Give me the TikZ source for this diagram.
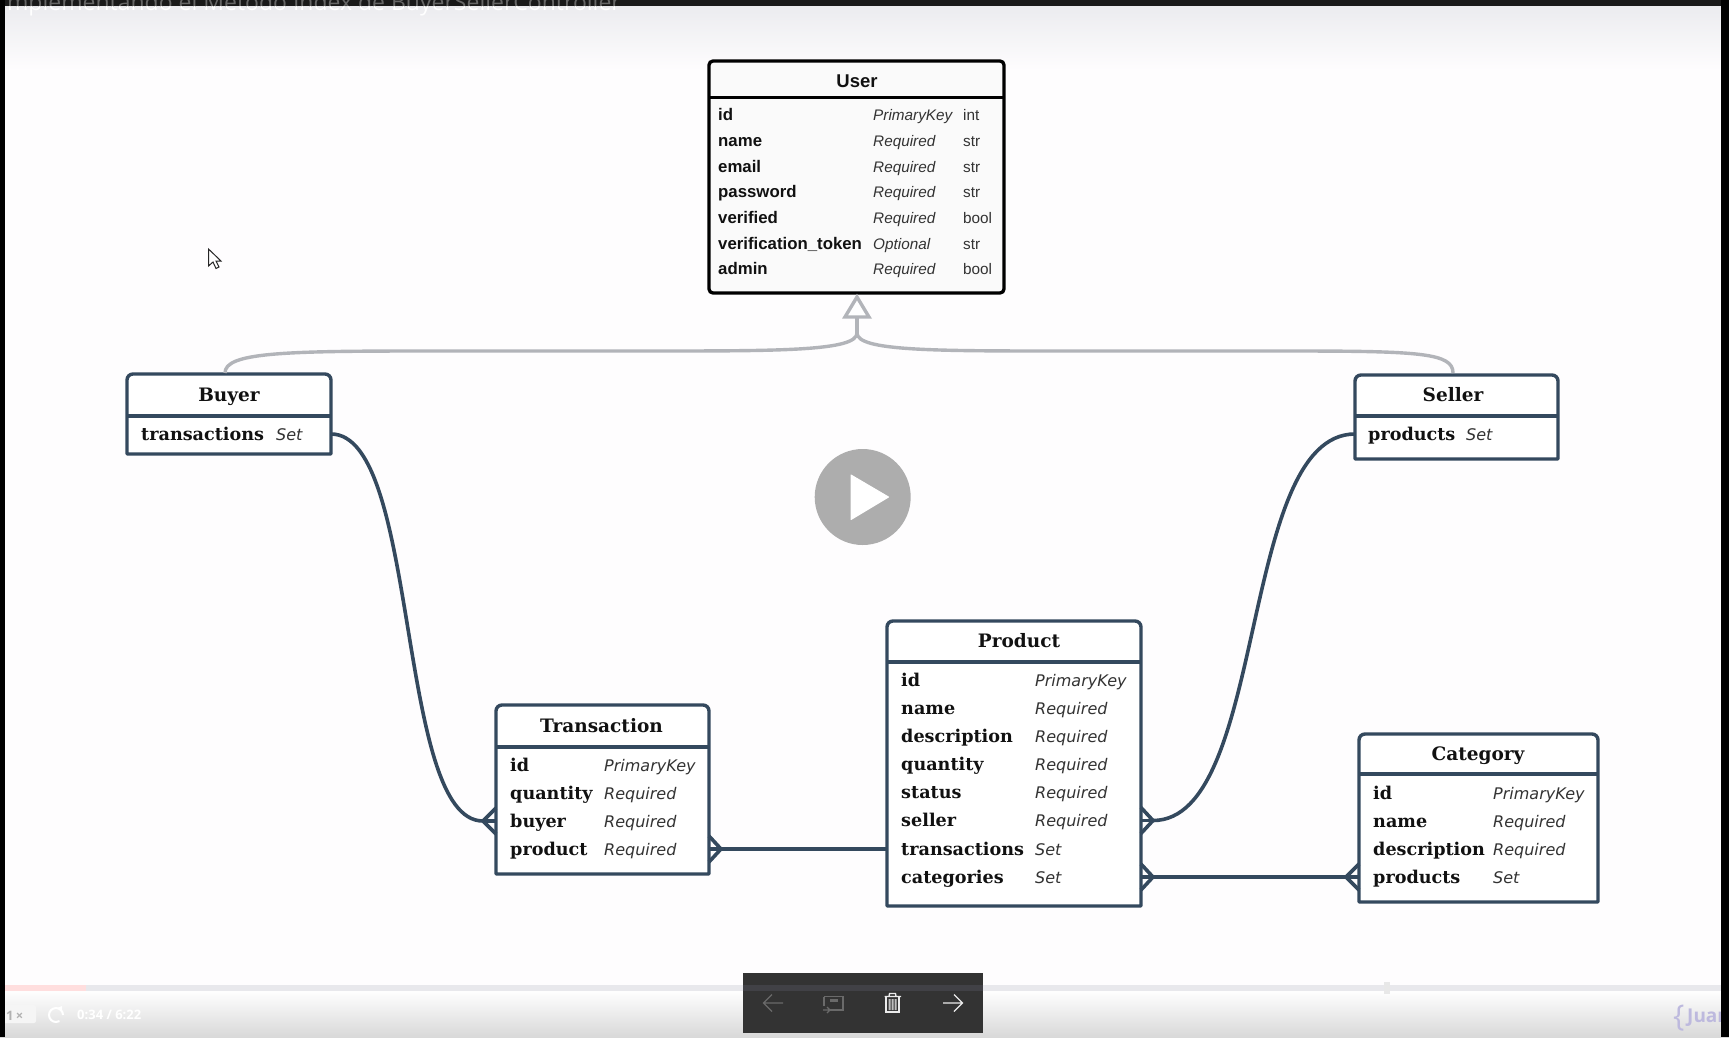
\documentclass[tikz,border=0pt]{standalone}
\usepackage{fontspec}
\setmainfont{DejaVu Sans}
\newfontfamily\erfont{DejaVu Serif}
\newfontfamily\ersans{DejaVu Sans}
\newfontfamily\userfont{Liberation Sans}
\newfontfamily\uifont{Open Sans}
\definecolor{slate}{HTML}{34495E}
\definecolor{inherit}{HTML}{B2B4B9}
\definecolor{ink}{HTML}{111111}
\definecolor{ital}{HTML}{333333}
\definecolor{barshade}{HTML}{E8E8EC}
\definecolor{screenbg}{HTML}{FEFDFE}
\definecolor{toolbar}{HTML}{333333}
\definecolor{toolband}{HTML}{414146}
\definecolor{lavender}{HTML}{BDB9DE}
\definecolor{dimicon}{HTML}{6A6A6A}
\tikzset{
  x=1pt,y=-1pt,
  anchorbox/.style={inner sep=0pt,outer sep=0pt},
  ertitle/.style={inner sep=0pt,anchor=center,text=ink,font=\erfont\bfseries\fontsize{18.5}{20}\selectfont},
  erfield/.style={inner sep=0pt,anchor=base west,text=ink,font=\erfont\bfseries\fontsize{17.6}{20}\selectfont},
  erkind/.style={inner sep=0pt,anchor=base west,text=ital,font=\ersans\itshape\fontsize{16}{20}\selectfont},
  utitle/.style={inner sep=0pt,anchor=center,text=ink,font=\userfont\bfseries\fontsize{18.5}{20}\selectfont},
  ufield/.style={inner sep=0pt,anchor=base west,text=ink,font=\userfont\bfseries\fontsize{16.8}{20}\selectfont},
  ukind/.style={inner sep=0pt,anchor=base west,text=ital,font=\userfont\itshape\fontsize{15.3}{20}\selectfont},
  utype/.style={inner sep=0pt,anchor=base west,text=ital,font=\userfont\fontsize{15.3}{20}\selectfont},
  tablebody/.style={draw=slate,line width=3.4pt,fill=white,line join=round},
  rel/.style={draw=slate,line width=3.6pt},
  inh/.style={draw=inherit,line width=3.4pt},
  uitext/.style={inner sep=0pt,anchor=base west},
}
% name, x1, y1, x2, y2, header y
\newcommand{\ertable}[6]{%
  \node[anchorbox,minimum width=#4pt-#2pt,minimum height=#5pt-#3pt,anchor=north west] (#1) at (#2,#3) {};
  \draw[tablebody] (#1.south west) [rounded corners=6pt] -- (#1.north west) -- (#1.north east) [sharp corners] -- (#1.south east) -- cycle;
  \draw[slate,line width=3.4pt] (#1.west |- 0,#6) -- (#1.east |- 0,#6);
}
% row: name, box, field x, kind x, centre y, field, kind
\newcommand{\errow}[7]{%
  \node[erfield] (#1) at (#3,#5+6.2) {#6};
  \node[erkind] (#1k) at (#4,#5+6.2) {#7};
  \coordinate (#1w) at (#2.west |- 0,#5);
  \coordinate (#1e) at (#2.east |- 0,#5);
}
\newcommand{\urow}[6]{%
  \node[ufield] (#1) at (718,#2+5.5) {#3};
  \node[ukind] (#1k) at (873,#2+5.5) {#4};
  \node[utype] (#1t) at (#5,#2+5.5) {#6};
}
\newcommand{\crowleft}[1]{%
  \draw[rel,line join=miter] ([xshift=13pt,yshift=13pt]#1) -- (#1) -- ([xshift=13pt,yshift=-13pt]#1);
  \draw[rel] (#1) -- ([xshift=13pt]#1);
}
\newcommand{\crowright}[1]{%
  \draw[rel,line join=miter] ([xshift=-12pt,yshift=13pt]#1) -- (#1) -- ([xshift=-12pt,yshift=-13pt]#1);
  \draw[rel] (#1) -- ([xshift=-12pt]#1);
}
\begin{document}
\begin{tikzpicture}
\useasboundingbox (0,0) rectangle (1729,1037);
% screen
\fill[screenbg] (0,0) rectangle (1729,1037);
\shade[top color=barshade!85!white,bottom color=screenbg] (0,6) rectangle (1729,70);
\shade[top color=white!97!barshade,bottom color=black!15] (0,991) rectangle (1729,1037);
\fill[barshade] (0,985) rectangle (1729,991);
\fill[red!13] (0,985) rectangle (86,991);
\fill[black!9] (1384,982) rectangle (1390,994);
\fill[black!90] (0,0) rectangle (1729,6);
% clipped video title
\begin{scope}
  \clip (5,0) rectangle (1729,6);
  \node[inner sep=0pt,anchor=base east,text=black!60,font=\uifont\fontsize{23}{26}\selectfont] (titlea) at (621,10) {Implementando el Metodo Index de BuyerSellerController};
\end{scope}
\begin{scope}
  \clip (5,6) rectangle (1729,40);
  \node[inner sep=0pt,anchor=base east,text=white,font=\uifont\fontsize{23}{26}\selectfont] (titleb) at (621,10) {Implementando el Metodo Index de BuyerSellerController};
\end{scope}
% player controls
\fill[white!96!black,rounded corners=2pt] (0,1005) rectangle (36,1023);
\node[uitext,text=black!30,font=\uifont\bfseries\fontsize{13}{15}\selectfont] (speed) at (6,1020) {1\,×};
\draw[white,line width=2pt] (63,1015) arc[start angle=0,end angle=-300,radius=7];
\fill[white] (62,1006) -- (62,1012) -- (57,1008) -- cycle;
\node[uitext,text=white,font=\uifont\bfseries\fontsize{13}{15}\selectfont] (clock) at (77,1019) {0:34 / 6:22};
\begin{scope}
  \clip (1660,995) rectangle (1721,1037);
  \node[uitext,text=lavender,font=\uifont\fontsize{30}{32}\selectfont] (brace) at (1673,1026) {\{};
  \node[uitext,text=lavender,font=\uifont\bfseries\fontsize{19}{22}\selectfont] (brand) at (1687,1022) {Juan};
\end{scope}
% toolbar
\fill[toolbar] (743,973) rectangle (983,1033);
\fill[toolband] (743,985) rectangle (983,991);
\draw[dimicon,line width=1.3pt] (783,1003) -- (763.5,1003) (772,994.5) -- (763.5,1003) -- (772,1011.5);
\draw[dimicon,line width=1.3pt] (829,996.5) -- (843,996.5) -- (843,1010) -- (829,1010) (824,996.5) -- (829,996.5) (824,996.5) -- (824,1006);
\fill[dimicon] (830,999) rectangle (838,1002);
\draw[dimicon,line width=1.3pt] (823,1010) -- (830,1010) (827,1007) -- (830,1010) -- (827,1013);
\draw[white!92!black,line width=1.3pt] (884.5,996.5) -- (901,996.5) (889,996.5) -- (889.5,993.5) -- (895.5,993.5) -- (896,996.5);
\draw[white!92!black,line width=1.3pt] (886,996.5) -- (886,1012) -- (899,1012) -- (899,996.5);
\fill[white!75!black] (888.5,999) rectangle (890.5,1010) (891.5,999) rectangle (893.5,1010) (894.5,999) rectangle (896.5,1010);
\draw[white!92!black,line width=1.3pt] (943,1003) -- (962.5,1003) (954,994.5) -- (962.5,1003) -- (954,1011.5);
% side bars
\fill[black] (0,0) rectangle (5,1037);
\fill[black] (1721,0) rectangle (1729,1037);

% play button
\node[circle,fill=black!32,minimum size=96pt,inner sep=0pt] (play) at (862.7,497) {};
\fill[white,line join=round,draw=white,line width=1pt] (851,475) -- (851,519.5) -- (888.5,497) -- cycle;
% cursor
\draw[fill=white,draw=black!85,line width=1pt,line join=miter] (208.5,249) -- (208.5,266) -- (213,262) -- (216,268.5) -- (219,267) -- (216,261) -- (221,261) -- cycle;

% User
\node[anchorbox,minimum width=295pt,minimum height=232pt,anchor=north west,draw=black,line width=3.3pt,rounded corners=4pt,fill=white!98!black] (user) at (709,61) {};
\draw[black,line width=3.3pt] (user.west |- 0,97.5) -- (user.east |- 0,97.5);
\node[utitle] (usertitle) at (857,81.5) {User};
\urow{uid}{114.5}{id}{PrimaryKey}{963}{int}
\urow{uname}{140.5}{name}{Required}{963}{str}
\urow{uemail}{166.5}{email}{Required}{963}{str}
\urow{upass}{192}{password}{Required}{963}{str}
\urow{uverif}{217.5}{verified}{Required}{963}{bool}
\urow{utoken}{243.5}{verification\_token}{Optional}{963}{str}
\urow{uadmin}{269}{admin}{Required}{963}{bool}

% Buyer
\ertable{buyer}{127}{374}{331}{454}{416}
\node[ertitle] (buyertitle) at (229,397) {Buyer};
\errow{btx}{buyer}{141}{276}{434}{transactions}{Set}
% Seller
\ertable{seller}{1355}{375}{1558}{459}{416}
\node[ertitle] (sellertitle) at (1453,395) {Seller};
\errow{sprod}{seller}{1368}{1466}{434}{products}{Set}
% Transaction
\ertable{transaction}{496}{705}{709}{874}{747}
\node[ertitle] (transactiontitle) at (601.5,726) {Transaction};
\errow{tid}{transaction}{510}{604}{765}{id}{PrimaryKey}
\errow{tqty}{transaction}{510}{604}{793}{quantity}{Required}
\errow{tbuyer}{transaction}{510}{604}{821}{buyer}{Required}
\errow{tprod}{transaction}{510}{604}{849}{product}{Required}
% Product
\ertable{product}{887}{621}{1141}{906}{662}
\node[ertitle] (producttitle) at (1019,641) {Product};
\errow{pid}{product}{901}{1035}{680}{id}{PrimaryKey}
\errow{pname}{product}{901}{1035}{708.5}{name}{Required}
\errow{pdesc}{product}{901}{1035}{736.5}{description}{Required}
\errow{pqty}{product}{901}{1035}{764.5}{quantity}{Required}
\errow{pstat}{product}{901}{1035}{792.5}{status}{Required}
\errow{psell}{product}{901}{1035}{820.5}{seller}{Required}
\errow{ptx}{product}{901}{1035}{849}{transactions}{Set}
\errow{pcat}{product}{901}{1035}{877}{categories}{Set}
% Category
\ertable{category}{1359}{734}{1598}{902}{774}
\node[ertitle] (categorytitle) at (1478,756) {Category};
\errow{cid}{category}{1373}{1493}{793}{id}{PrimaryKey}
\errow{cname}{category}{1373}{1493}{821}{name}{Required}
\errow{cdesc}{category}{1373}{1493}{849}{description}{Required}
\errow{cprod}{category}{1373}{1493}{877}{products}{Set}

% crow's feet
\coordinate (footbuyer) at ([xshift=-13pt]tbuyerw);
\coordinate (footprod) at ([xshift=12pt]tprode);
\coordinate (footseller) at ([xshift=12pt]pselle);
\coordinate (footcat) at ([xshift=12pt]pcate);
\coordinate (footcatr) at ([xshift=-13pt]cprodw);
\crowleft{footbuyer}
\crowright{footprod}
\crowright{footseller}
\crowright{footcat}
\crowleft{footcatr}
% relations
\draw[rel] (btxe) .. controls (420,434) and (396,821) .. (footbuyer);
\draw[rel] (sprodw) .. controls (1238,434) and (1268,820.5) .. (footseller);
\draw[rel] (footprod) -- (tprode -| product.west);
\draw[rel] (footcat) -- (footcatr);

% inheritance
\coordinate (stem) at (857,333);
\coordinate (buyertop) at (225,373);
\coordinate (sellertop) at (1453,373);
\draw[inh] (stem) .. controls (857,351) and (780,351) .. (650,351) -- (420,351) .. controls (280,351) and (225,353) .. (buyertop);
\draw[inh] (stem) .. controls (857,351) and (934,351) .. (1064,351) -- (1290,351) .. controls (1420,351) and (1453,353) .. (sellertop);
\draw[inh,line join=miter] (stem) -- (857,317);
\draw[inh,line join=miter,fill=white] (857,297) -- (845,317) -- (869,317) -- cycle;
\end{tikzpicture}
\end{document}
